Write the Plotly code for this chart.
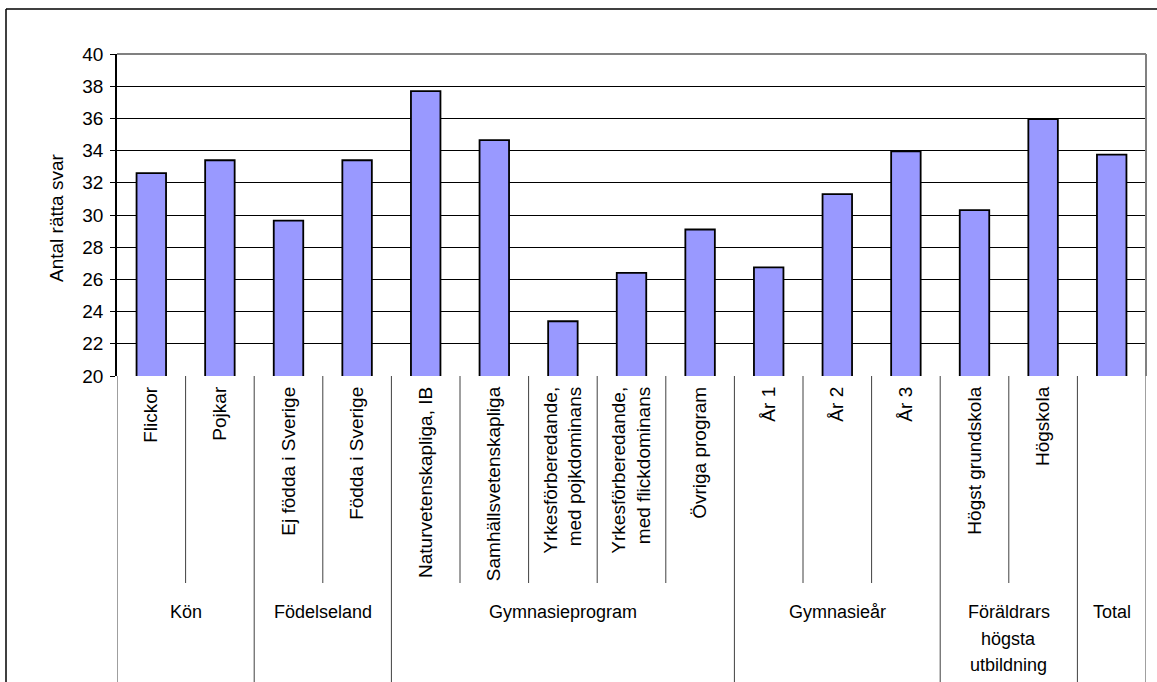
import plotly.graph_objects as go

categories = [
    "Flickor", "Pojkar",
    "Ej födda i Sverige", "Födda i Sverige",
    "Naturvetenskapliga, IB", "Samhällsvetenskapliga",
    "Yrkesförberedande,<br>med pojkdominans", "Yrkesförberedande,<br>med flickdominans",
    "Övriga program",
    "År 1", "År 2", "År 3",
    "Högst grundskola", "Högskola",
    "",
]
values = [32.6, 33.4, 29.65, 33.4, 37.7, 34.65, 23.4, 26.4, 29.1,
          26.75, 31.3, 33.95, 30.3, 35.95, 33.75]
groups = ["Kön", "Födelseland", "Gymnasieprogram", "Gymnasieår",
          "Föräldrars<br>högsta<br>utbildning", "Total"]
group_sizes = [2, 2, 5, 3, 2, 1]
y_title = "Antal rätta svar"

W, H = 1157, 682
L, R, T, B = 117, 1146, 54, 376
FONT = "Liberation Sans, Arial, sans-serif"
FS = 19
GFS = 18

def px_x(p):
    return (p - L) / (R - L)

def px_y(p):
    return (B - p) / (B - T)

xs = list(range(len(values)))

fig = go.Figure()
fig.add_trace(go.Bar(
    x=xs, y=values, width=0.43,
    marker=dict(color="#9999FF", line=dict(color="black", width=1.8)),
    hoverinfo="y",
))

shapes = []
# plot area border (gray, top & right)
shapes.append(dict(type="line", xref="paper", yref="paper", x0=0, x1=1, y0=1, y1=1,
                   line=dict(color="#808080", width=2)))
shapes.append(dict(type="line", xref="paper", yref="paper", x0=1, x1=1, y0=0, y1=1,
                   line=dict(color="#808080", width=2)))
# outer chart frame
shapes.append(dict(type="line", xref="paper", yref="paper", x0=px_x(6), x1=px_x(W + 5),
                   y0=px_y(9), y1=px_y(9), line=dict(color="black", width=1.5)))
shapes.append(dict(type="line", xref="paper", yref="paper", x0=px_x(6), x1=px_x(6),
                   y0=px_y(9), y1=px_y(H + 5), line=dict(color="black", width=1.5)))

# category dividers
boundaries = set()
acc = 0
for s in group_sizes:
    acc += s
    boundaries.add(acc)
n = len(values)
for k in range(0, n + 1):
    xb = k - 0.5
    if k == 0 or k in boundaries:
        y_end = px_y(H + 5)
    else:
        y_end = px_y(583)
    shapes.append(dict(type="line", xref="x", yref="paper", x0=xb, x1=xb,
                       y0=0, y1=y_end, line=dict(color="#404040", width=1)))

annotations = []
# group labels (one annotation per line to match the line spacing)
start = 0
for g, s in zip(groups, group_sizes):
    center = start + (s - 1) / 2
    for li, line_text in enumerate(g.split("<br>")):
        annotations.append(dict(x=center, xref="x", y=px_y(612 + 26.5 * li), yref="paper",
                                text=line_text, showarrow=False, xanchor="center",
                                yanchor="middle",
                                font=dict(family=FONT, size=GFS, color="black")))
    start += s

annotations.append(dict(x=px_x(56), xref="paper", y=px_y(218), yref="paper",
                        text=y_title, textangle=-90, showarrow=False,
                        xanchor="center", yanchor="middle",
                        font=dict(family=FONT, size=FS, color="black")))

fig.update_layout(
    width=W, height=H,
    margin=dict(l=L, r=W - R, t=T, b=H - B, autoexpand=False),
    paper_bgcolor="white", plot_bgcolor="white",
    showlegend=False,
    shapes=shapes, annotations=annotations,
    font=dict(family=FONT, size=FS, color="black"),
)
fig.update_xaxes(
    tickmode="array", tickvals=xs, ticktext=categories, tickangle=-90,
    range=[-0.5, n - 0.5], showgrid=False, ticks="", showline=False,
    ticklabelstandoff=6,
    tickfont=dict(family=FONT, size=FS, color="black"),
)
fig.update_yaxes(
    range=[20, 40], dtick=2, tick0=20, showgrid=True, gridcolor="black", gridwidth=1,
    ticks="outside", ticklen=5, tickcolor="black", showline=True, linecolor="black",
    linewidth=1.5, zeroline=False, ticklabelstandoff=3,
    tickfont=dict(family=FONT, size=FS, color="black"),
)

fig.write_html("out.html", config={"displayModeBar": False},
               post_script="document.body.style.margin='0';")
